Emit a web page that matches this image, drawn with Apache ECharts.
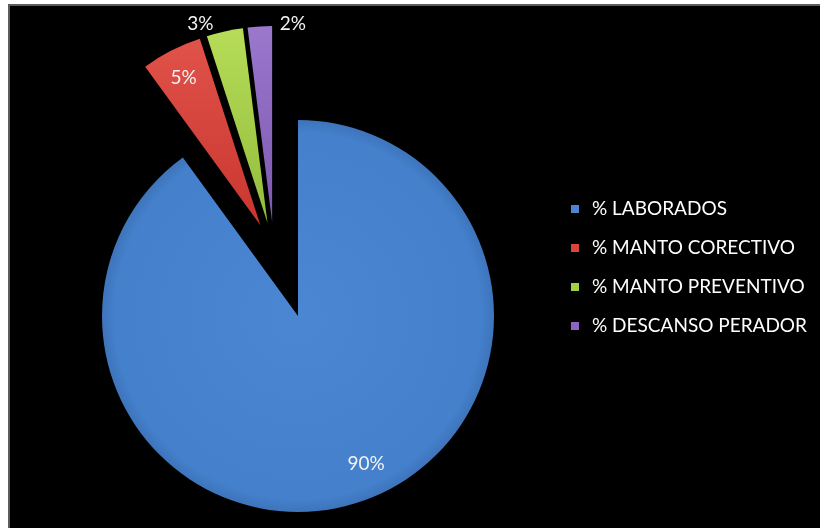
<!DOCTYPE html>
<html>
<head>
<meta charset="utf-8">
<script src="https://cdn.jsdelivr.net/npm/echarts@6/dist/echarts.min.js"></script>
<style>
  html, body { margin: 0; padding: 0; background: #ffffff; }
  #chart { width: 820px; height: 528px; }
</style>
</head>
<body>
<div id="chart"></div>
<script>
// Share of hours per activity (percent)
const categories = ['% LABORADOS', '% MANTO CORECTIVO', '% MANTO PREVENTIVO', '% DESCANSO PERADOR'];
const shares = [90, 5, 3, 2];
// Slices drawn pulled away from the main body of the pie
const pulledOut = [false, true, true, true];

// Slice colours
const fills = [
  { type: 'radial', x: 0.5, y: 0.5, r: 0.52,
    colorStops: [{ offset: 0, color: '#4a86d2' }, { offset: 0.9, color: '#4480cc' }, { offset: 1, color: '#3a6db0' }] },
  { type: 'linear', x: 0, y: 0, x2: 0, y2: 1,
    colorStops: [{ offset: 0, color: '#e0524a' }, { offset: 1, color: '#c9362f' }] },
  { type: 'linear', x: 0, y: 0, x2: 0, y2: 1,
    colorStops: [{ offset: 0, color: '#b6dc58' }, { offset: 1, color: '#93bd3c' }] },
  { type: 'linear', x: 0, y: 0, x2: 0, y2: 1,
    colorStops: [{ offset: 0, color: '#9a78cc' }, { offset: 1, color: '#7d58b0' }] }
];
const legendSwatch = ['#4a86d2', '#d9443d', '#a6cf48', '#8b66c0'];

// Nudges applied to each value label after layout
const labelNudge = [
  { dx: 37, dy: 52 },
  { dx: -31, dy: -57 },
  { dx: -45, dy: -100 },
  { dx: 27, dy: -97 }
];

const clear = 'rgba(0,0,0,0)';
const labelFont = { color: '#f2f2f2', fontFamily: 'Lato', fontSize: 19 };

function sliceData(visibleWhen) {
  return categories.map((name, i) => {
    const visible = pulledOut[i] === visibleWhen;
    return {
      name: name,
      value: shares[i],
      selected: visibleWhen && visible,
      itemStyle: { color: visible ? fills[i] : clear },
      label: { show: visible }
    };
  });
}

function nudge(params) {
  const n = labelNudge[params.dataIndex];
  return { dx: n.dx, dy: n.dy };
}

const pieCommon = {
  type: 'pie',
  radius: 196,
  startAngle: 90,
  clockwise: true,
  silent: true,
  avoidLabelOverlap: false,
  label: Object.assign({ position: 'inside', formatter: '{c}%' }, labelFont),
  labelLine: { show: false },
  emphasis: { disabled: true }
};

const chart = echarts.init(document.getElementById('chart'), null, { renderer: 'canvas' });
chart.setOption({
  backgroundColor: '#ffffff',
  animation: false,
  graphic: [{
    type: 'rect',
    z: 0,
    shape: { x: 9, y: 5, width: 820, height: 530 },
    style: { fill: '#000000', stroke: '#5c5c5c', lineWidth: 2 }
  }],
  legend: {
    orient: 'vertical',
    left: 566,
    top: 194,
    itemWidth: 8,
    itemHeight: 8,
    itemGap: 19,
    icon: 'rect',
    selectedMode: false,
    textStyle: { color: '#ffffff', fontFamily: 'Lato', fontSize: 19, lineHeight: 20, padding: [0, 0, 0, 8] },
    data: categories.map((name, i) => ({ name: name, itemStyle: { color: legendSwatch[i] } }))
  },
  series: [
    Object.assign({}, pieCommon, {
      name: 'main',
      center: [298, 316],
      data: sliceData(false),
      labelLayout: nudge
    }),
    Object.assign({}, pieCommon, {
      name: 'pulled',
      center: [274, 252],
      selectedMode: 'multiple',
      selectedOffset: 30,
      data: sliceData(true),
      labelLayout: nudge
    })
  ]
});
</script>
</body>
</html>
